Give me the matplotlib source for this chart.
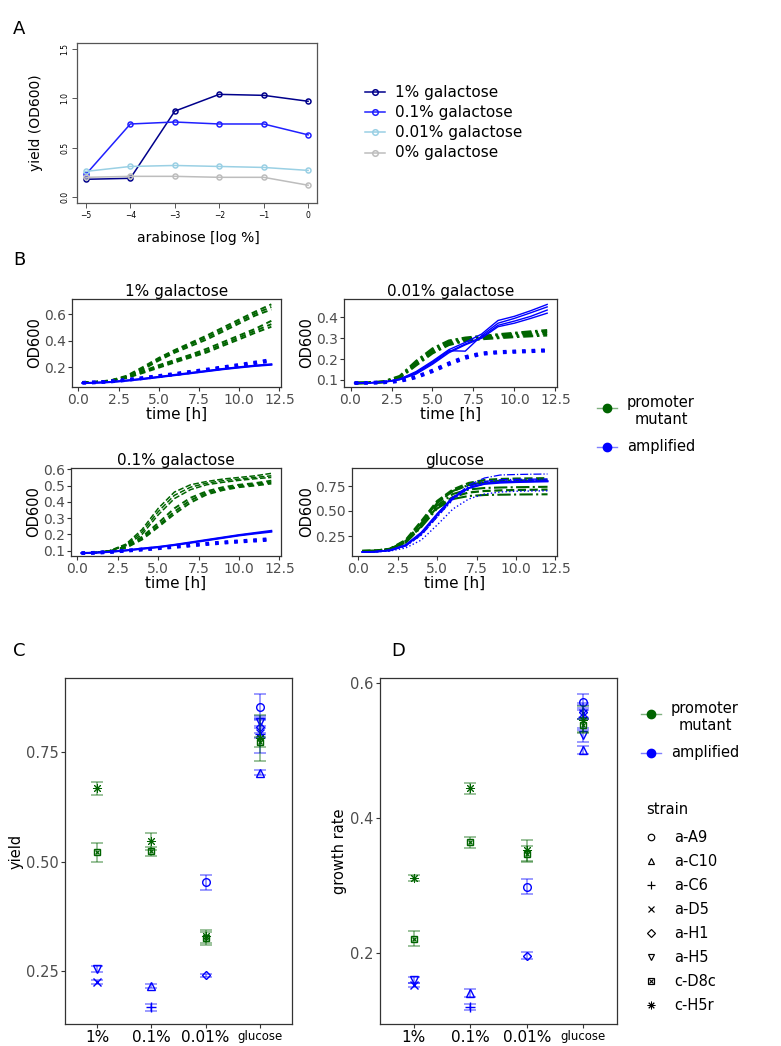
import matplotlib
matplotlib.use("Agg")
import matplotlib.pyplot as plt
from matplotlib.lines import Line2D
import numpy as np

W, H = 781, 1046

# ---------------- panel A data ----------------
arabinose_log = [-5, -4, -3, -2, -1, 0]
a_gal1 = [0.18, 0.19, 0.87, 1.04, 1.03, 0.97]
a_gal01 = [0.23, 0.74, 0.76, 0.74, 0.74, 0.63]
a_gal001 = [0.26, 0.31, 0.32, 0.31, 0.30, 0.27]
a_gal0 = [0.20, 0.21, 0.21, 0.20, 0.20, 0.12]
a_labels = ["1% galactose", "0.1% galactose", "0.01% galactose", "0% galactose"]
a_colors = ["#00008B", "#2020FF", "#9AD0E4", "#BDBDBD"]

# ---------------- panel B data (growth curves) ----------------
t_hours = [0.25, 1, 2, 3, 4, 5, 6, 7, 8, 9, 10, 11, 12]

g1_cH5r = [[0.085, 0.088, 0.100, 0.135, 0.200, 0.270, 0.330, 0.385, 0.440, 0.500, 0.560, 0.620, 0.675],
           [0.085, 0.088, 0.099, 0.130, 0.190, 0.260, 0.320, 0.375, 0.425, 0.485, 0.545, 0.605, 0.655],
           [0.085, 0.087, 0.098, 0.128, 0.182, 0.250, 0.310, 0.360, 0.410, 0.470, 0.530, 0.590, 0.635]]
g1_cD8c = [[0.085, 0.088, 0.098, 0.125, 0.170, 0.215, 0.255, 0.295, 0.340, 0.390, 0.440, 0.490, 0.550],
           [0.085, 0.087, 0.097, 0.121, 0.162, 0.205, 0.245, 0.285, 0.325, 0.375, 0.425, 0.475, 0.525],
           [0.085, 0.087, 0.096, 0.118, 0.156, 0.196, 0.236, 0.274, 0.312, 0.362, 0.410, 0.460, 0.505]]
g1_aD5 = [[0.080, 0.082, 0.088, 0.099, 0.112, 0.127, 0.142, 0.157, 0.172, 0.187, 0.200, 0.212, 0.222],
          [0.080, 0.082, 0.087, 0.098, 0.110, 0.124, 0.139, 0.154, 0.169, 0.184, 0.197, 0.209, 0.218]]
g1_aH5 = [[0.082, 0.085, 0.092, 0.104, 0.118, 0.134, 0.150, 0.166, 0.183, 0.200, 0.218, 0.236, 0.255],
          [0.082, 0.085, 0.091, 0.102, 0.116, 0.131, 0.146, 0.162, 0.178, 0.195, 0.212, 0.230, 0.248]]

g01_cH5r = [[0.085, 0.088, 0.100, 0.140, 0.230, 0.360, 0.460, 0.505, 0.525, 0.540, 0.550, 0.560, 0.575],
            [0.085, 0.088, 0.099, 0.135, 0.215, 0.340, 0.440, 0.490, 0.515, 0.530, 0.540, 0.550, 0.560],
            [0.085, 0.087, 0.098, 0.130, 0.200, 0.320, 0.420, 0.475, 0.505, 0.520, 0.532, 0.542, 0.550]]
g01_cD8c = [[0.085, 0.087, 0.097, 0.125, 0.185, 0.270, 0.360, 0.425, 0.465, 0.490, 0.505, 0.515, 0.530],
            [0.085, 0.087, 0.096, 0.120, 0.175, 0.255, 0.340, 0.410, 0.455, 0.480, 0.497, 0.508, 0.520],
            [0.085, 0.086, 0.095, 0.117, 0.168, 0.245, 0.325, 0.395, 0.445, 0.472, 0.490, 0.500, 0.512]]
g01_aC10 = [[0.085, 0.087, 0.093, 0.102, 0.113, 0.123, 0.136, 0.151, 0.166, 0.181, 0.196, 0.209, 0.222],
            [0.085, 0.087, 0.092, 0.101, 0.111, 0.121, 0.134, 0.148, 0.163, 0.178, 0.193, 0.205, 0.216]]
g01_aC6 = [[0.085, 0.087, 0.092, 0.100, 0.108, 0.116, 0.125, 0.134, 0.143, 0.151, 0.158, 0.165, 0.172],
           [0.085, 0.086, 0.091, 0.099, 0.106, 0.114, 0.122, 0.131, 0.140, 0.148, 0.155, 0.161, 0.167]]

g001_cH5r = [[0.085, 0.086, 0.092, 0.118, 0.190, 0.250, 0.288, 0.302, 0.310, 0.318, 0.325, 0.332, 0.338],
             [0.085, 0.086, 0.091, 0.115, 0.182, 0.243, 0.282, 0.298, 0.306, 0.313, 0.320, 0.326, 0.331]]
g001_cD8c = [[0.085, 0.086, 0.090, 0.112, 0.175, 0.235, 0.275, 0.292, 0.300, 0.306, 0.312, 0.317, 0.322],
             [0.085, 0.086, 0.090, 0.110, 0.170, 0.228, 0.268, 0.287, 0.296, 0.301, 0.306, 0.310, 0.314]]
g001_aA9 = [[0.085, 0.086, 0.090, 0.104, 0.140, 0.190, 0.245, 0.280, 0.320, 0.385, 0.405, 0.432, 0.462],
            [0.085, 0.086, 0.089, 0.103, 0.136, 0.185, 0.240, 0.238, 0.312, 0.372, 0.395, 0.422, 0.450],
            [0.085, 0.086, 0.089, 0.102, 0.132, 0.180, 0.235, 0.272, 0.305, 0.362, 0.382, 0.405, 0.435],
            [0.085, 0.085, 0.088, 0.101, 0.128, 0.175, 0.230, 0.268, 0.300, 0.355, 0.372, 0.395, 0.420]]
g001_aH1 = [[0.085, 0.086, 0.088, 0.095, 0.115, 0.145, 0.180, 0.210, 0.228, 0.234, 0.237, 0.240, 0.243],
            [0.085, 0.086, 0.088, 0.094, 0.112, 0.141, 0.175, 0.205, 0.224, 0.231, 0.234, 0.237, 0.240]]

glc_aA9 = [0.090, 0.092, 0.105, 0.150, 0.260, 0.440, 0.620, 0.760, 0.830, 0.860, 0.865, 0.868, 0.870]
glc_aC10 = [0.090, 0.091, 0.100, 0.130, 0.210, 0.360, 0.520, 0.620, 0.670, 0.690, 0.698, 0.700, 0.702]
glc_aC6 = [0.090, 0.092, 0.106, 0.155, 0.275, 0.460, 0.630, 0.730, 0.775, 0.790, 0.795, 0.798, 0.800]
glc_aD5 = [0.090, 0.092, 0.107, 0.160, 0.285, 0.470, 0.635, 0.730, 0.770, 0.782, 0.788, 0.792, 0.795]
glc_aH1 = [0.090, 0.092, 0.104, 0.148, 0.262, 0.445, 0.615, 0.725, 0.775, 0.795, 0.802, 0.806, 0.808]
glc_aH5 = [0.090, 0.092, 0.106, 0.156, 0.280, 0.470, 0.640, 0.745, 0.795, 0.812, 0.816, 0.818, 0.820]
glc_cD8c = [[0.100, 0.102, 0.120, 0.200, 0.380, 0.580, 0.700, 0.760, 0.790, 0.800, 0.805, 0.808, 0.812],
            [0.100, 0.102, 0.118, 0.190, 0.360, 0.555, 0.670, 0.715, 0.730, 0.735, 0.738, 0.740, 0.742],
            [0.100, 0.101, 0.116, 0.182, 0.340, 0.525, 0.620, 0.650, 0.660, 0.663, 0.665, 0.666, 0.667]]
glc_cH5r = [[0.100, 0.102, 0.122, 0.210, 0.400, 0.600, 0.715, 0.780, 0.810, 0.820, 0.824, 0.826, 0.828],
            [0.100, 0.102, 0.120, 0.200, 0.385, 0.585, 0.700, 0.760, 0.785, 0.794, 0.798, 0.800, 0.802],
            [0.100, 0.101, 0.116, 0.185, 0.350, 0.540, 0.640, 0.685, 0.700, 0.706, 0.710, 0.712, 0.714]]

# ---------------- panels C / D data ----------------
conditions = ["1%", "0.1%", "0.01%", "glucose"]
strains = ["a-A9", "a-C10", "a-C6", "a-D5", "a-H1", "a-H5", "c-D8c", "c-H5r"]

pt_cond = ["1%", "1%", "1%", "1%",
           "0.1%", "0.1%", "0.1%", "0.1%",
           "0.01%", "0.01%", "0.01%", "0.01%",
           "glucose", "glucose", "glucose", "glucose", "glucose", "glucose", "glucose", "glucose"]
pt_strain = ["c-H5r", "c-D8c", "a-H5", "a-D5",
             "c-H5r", "c-D8c", "a-C10", "a-C6",
             "a-A9", "c-H5r", "c-D8c", "a-H1",
             "a-A9", "a-C10", "a-C6", "a-D5", "a-H1", "a-H5", "c-D8c", "c-H5r"]
yield_mean = [0.667, 0.521, 0.256, 0.226,
              0.546, 0.523, 0.217, 0.168,
              0.453, 0.330, 0.325, 0.241,
              0.853, 0.702, 0.790, 0.793, 0.807, 0.818, 0.772, 0.781]
yield_sd = [0.015, 0.022, 0.007, 0.004,
            0.020, 0.010, 0.004, 0.008,
            0.017, 0.015, 0.015, 0.004,
            0.029, 0.006, 0.042, 0.012, 0.015, 0.010, 0.012, 0.053]
rate_mean = [0.311, 0.221, 0.160, 0.153,
             0.444, 0.364, 0.141, 0.120,
             0.298, 0.352, 0.346, 0.196,
             0.572, 0.500, 0.550, 0.555, 0.557, 0.523, 0.537, 0.545]
rate_sd = [0.004, 0.011, 0.005, 0.003,
           0.008, 0.008, 0.006, 0.004,
           0.011, 0.016, 0.012, 0.005,
           0.012, 0.006, 0.020, 0.008, 0.010, 0.010, 0.010, 0.020]

GREEN = "#006400"
BLUE = "#0000FF"
GREY_TXT = "#4D4D4D"
FRAME = "#333333"

strain_marker = {"a-A9": "o", "a-C10": "^", "a-C6": "+", "a-D5": "x",
                 "a-H1": "D", "a-H5": "v", "c-D8c": "s", "c-H5r": (8, 2, 0)}
strain_ms = {"a-A9": 5.5, "a-C10": 5.5, "a-C6": 7, "a-D5": 5.5,
             "a-H1": 4.5, "a-H5": 5.5, "c-D8c": 4.5, "c-H5r": 6.5}
strain_mew = {"c-H5r": 0.7}

fig = plt.figure(figsize=(W / 100, H / 100), dpi=100)


def px_axes(l, t, r, b):
    return fig.add_axes([l / W, 1 - b / H, (r - l) / W, (b - t) / H])


def fx(x):
    return x / W


def fy(y):
    return 1 - y / H


def gg_style(ax, labelsize=9.5):
    for s in ax.spines.values():
        s.set_color(FRAME)
        s.set_linewidth(0.9)
    ax.tick_params(colors=FRAME, labelcolor=GREY_TXT, labelsize=labelsize,
                   length=3, width=0.8, pad=1.5)


# ---------------- panel A ----------------
axA = px_axes(77, 43, 317, 203)
for ys, c in zip([a_gal1, a_gal01, a_gal001, a_gal0], a_colors):
    axA.plot(arabinose_log, ys, "-o", color=c, mfc="none", ms=3.6, mew=1.1, lw=1.1)
axA.set_xlim(-5.2, 0.2)
axA.set_ylim(-0.06, 1.56)
axA.set_xticks(arabinose_log)
axA.set_yticks([0.0, 0.5, 1.0, 1.5])
axA.set_yticklabels(["0.0", "0.5", "1.0", "1.5"], rotation=90, va="center")
for s in axA.spines.values():
    s.set_color("#555555")
    s.set_linewidth(0.9)
axA.tick_params(labelsize=5.5, length=3.5, width=0.7, color="#555555", pad=2)
fig.text(fx(36), fy(123), "yield (OD600)", rotation=90, ha="center", va="center", fontsize=10)
fig.text(fx(198), fy(238), "arabinose [log %]", ha="center", va="center", fontsize=10)

for i, (lab, c) in enumerate(zip(a_labels, a_colors)):
    yy = [92, 112, 132, 153][i]
    fig.add_artist(Line2D([fx(365), fx(385)], [fy(yy), fy(yy)], color=c, lw=1.1,
                          transform=fig.transFigure))
    fig.add_artist(Line2D([fx(375)], [fy(yy)], marker="o", mfc="none", mec=c, ms=4,
                          mew=1.1, transform=fig.transFigure))
    fig.text(fx(395), fy(yy), lab, ha="left", va="center", fontsize=11)

# ---------------- panel B ----------------
b_axes = [
    ("1% galactose", (72, 299, 281, 387), (0.05, 0.715), [0.2, 0.4, 0.6],
     [(g1_cH5r, GREEN, (0, (3, 2)), 1.4), (g1_cD8c, GREEN, (0, (3, 2)), 1.4),
      (g1_aD5, BLUE, "-", 1.4), (g1_aH5, BLUE, ":", 2.6)]),
    ("0.01% galactose", (344, 299, 557, 387), (0.066, 0.488), [0.1, 0.2, 0.3, 0.4],
     [(g001_cH5r, GREEN, (0, (4, 1.5, 1, 1.5)), 1.8), (g001_cD8c, GREEN, (0, (4, 1.5, 1, 1.5)), 1.8),
      (g001_aA9, BLUE, "-", 1.0), (g001_aH1, BLUE, ":", 2.6)]),
    ("0.1% galactose", (71, 468, 281, 556), (0.067, 0.608), [0.1, 0.2, 0.3, 0.4, 0.5, 0.6],
     [(g01_cH5r, GREEN, "--", 1.1), (g01_cD8c, GREEN, (0, (3, 2)), 1.4),
      (g01_aC10, BLUE, "-", 1.4), (g01_aC6, BLUE, ":", 2.6)]),
    ("glucose", (352, 468, 557, 556), (0.05, 0.93), [0.25, 0.5, 0.75],
     [(glc_cD8c, GREEN, "-.", 1.5), (glc_cH5r, GREEN, "--", 1.6),
      ([glc_aA9], BLUE, "-.", 0.9), ([glc_aC10], BLUE, ":", 1.0),
      ([glc_aC6], BLUE, "-", 1.3), ([glc_aD5], BLUE, "-", 1.3),
      ([glc_aH1], BLUE, ":", 1.2), ([glc_aH5], BLUE, "-.", 1.0)]),
]
for title, box, ylim, yt, groups in b_axes:
    ax = px_axes(*box)
    for reps, c, ls, lw in groups:
        for r in reps:
            ax.plot(t_hours, r, color=c, ls=ls, lw=lw)
    ax.set_xlim(-0.4, 12.6)
    ax.set_ylim(*ylim)
    ax.set_xticks([0, 2.5, 5, 7.5, 10, 12.5])
    ax.set_yticks(yt)
    if title == "glucose":
        ax.set_yticklabels(["0.25", "0.50", "0.75"])
    gg_style(ax, 10)
    ax.set_title(title, fontsize=11, pad=2)
    ax.set_xlabel("time [h]", fontsize=11, labelpad=0)
    ax.set_ylabel("OD600", fontsize=10.5, labelpad=1)

# legend B
for yy, c in [(408, GREEN), (447, BLUE)]:
    fig.add_artist(Line2D([fx(597), fx(617)], [fy(yy), fy(yy)], color=c, lw=1, alpha=0.5,
                          transform=fig.transFigure))
    fig.add_artist(Line2D([fx(607)], [fy(yy)], marker="o", color=c, ms=6,
                          transform=fig.transFigure))
fig.text(fx(627), fy(411), "promoter\nmutant", ha="left", va="center", fontsize=10.5,
         multialignment="center", linespacing=1.15)
fig.text(fx(627), fy(447), "amplified", ha="left", va="center", fontsize=10.5)

# ---------------- panels C and D ----------------
def draw_points(ax, means, sds):
    for cond, st, m, sd in zip(pt_cond, pt_strain, means, sds):
        x = conditions.index(cond) + 1
        c = GREEN if st.startswith("c-") else BLUE
        ax.errorbar([x], [m], yerr=[sd], fmt="none", ecolor=c, alpha=0.5,
                    elinewidth=1.1, capsize=4.5, capthick=1.1)
        ax.plot([x], [m], marker=strain_marker[st], ms=strain_ms[st], mfc="none",
                mec=c, mew=strain_mew.get(st, 1.0), ls="none")
        if st == "c-D8c":
            ax.plot([x], [m], marker="x", ms=3.2, mec=c, mew=0.9, ls="none")


axC = px_axes(65, 678, 292, 1024)
draw_points(axC, yield_mean, yield_sd)
axC.set_ylim(0.13, 0.918)
axC.set_yticks([0.25, 0.5, 0.75])
axC.set_yticklabels(["0.25", "0.50", "0.75"])
axC.set_ylabel("yield", fontsize=10.5, labelpad=2)

axD = px_axes(380, 678, 617, 1024)
draw_points(axD, rate_mean, rate_sd)
axD.set_ylim(0.095, 0.607)
axD.set_yticks([0.2, 0.4, 0.6])
axD.set_ylabel("growth rate", fontsize=10.5, labelpad=2)

for ax in (axC, axD):
    ax.set_xlim(0.4, 4.6)
    ax.set_xticks([1, 2, 3, 4])
    ax.set_xticklabels(conditions)
    gg_style(ax, 10.5)
    for lab in ax.get_xticklabels():
        lab.set_color("black")
        lab.set_fontsize(8.5 if lab.get_text() == "glucose" else 11)

# legend C/D
for yy, c in [(714, GREEN), (753, BLUE)]:
    fig.add_artist(Line2D([fx(641), fx(661)], [fy(yy), fy(yy)], color=c, lw=1, alpha=0.5,
                          transform=fig.transFigure))
    fig.add_artist(Line2D([fx(651)], [fy(yy)], marker="o", color=c, ms=6,
                          transform=fig.transFigure))
fig.text(fx(671), fy(717), "promoter\nmutant", ha="left", va="center", fontsize=10.5,
         multialignment="center", linespacing=1.15)
fig.text(fx(671), fy(753), "amplified", ha="left", va="center", fontsize=10.5)

fig.text(fx(646), fy(810), "strain", ha="left", va="center", fontsize=10.5)
for i, st in enumerate(strains):
    yy = 837 + 24 * i
    fig.add_artist(Line2D([fx(651)], [fy(yy)], marker=strain_marker[st],
                          ms=strain_ms[st] * 0.85, mfc="none", mec="black",
                          mew=strain_mew.get(st, 0.9) * 0.95,
                          transform=fig.transFigure))
    if st == "c-D8c":
        fig.add_artist(Line2D([fx(651)], [fy(yy)], marker="x", ms=2.8, mec="black",
                              mew=0.8, transform=fig.transFigure))
    fig.text(fx(674), fy(yy), st, ha="left", va="center", fontsize=10.5)

# panel letters
for letter, (x, y) in {"A": (19, 29), "B": (19, 260), "C": (19, 651), "D": (398, 651)}.items():
    fig.text(fx(x), fy(y), letter, ha="center", va="center", fontsize=13)

fig.savefig("out.png", dpi=100)
